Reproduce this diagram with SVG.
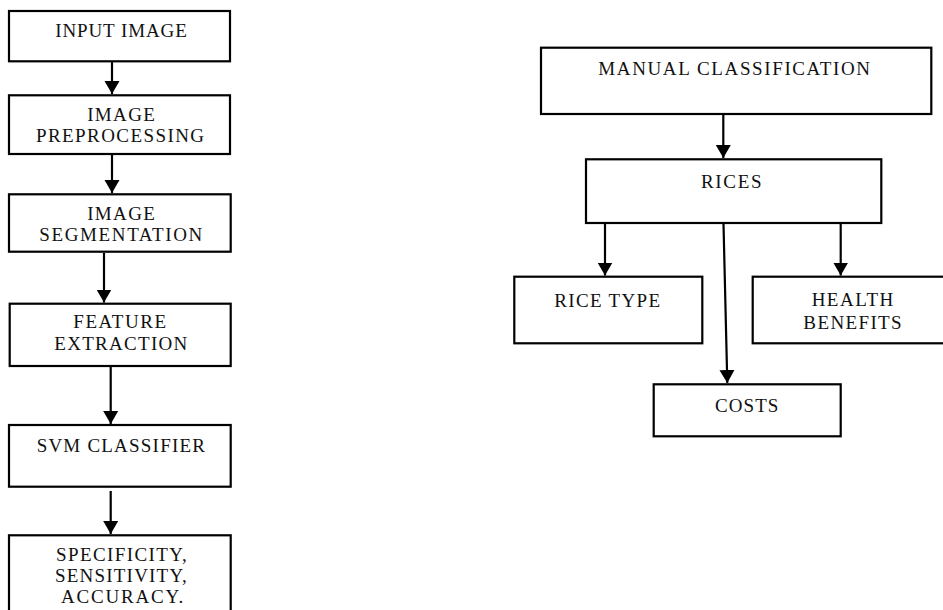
<svg xmlns="http://www.w3.org/2000/svg" width="943" height="610" viewBox="0 0 943 610">
<style>
.box{fill:#fff;stroke:#000;stroke-width:2.2}
.t{font-family:"Liberation Serif","Times New Roman",serif;font-size:19px;fill:#111;text-anchor:middle}
.c{stroke:#000;stroke-width:2.2;fill:none;marker-end:url(#ah)}
</style>
<defs>
<marker id="ah" markerUnits="userSpaceOnUse" markerWidth="16" markerHeight="16" refX="13" refY="8" orient="auto">
<path d="M0,0.5 L13,8 L0,15.5 Z" fill="#000"/>
</marker>
</defs>
<rect width="943" height="610" fill="#fff"/>
<g id="connectors">
<line class="c" x1="112" y1="62" x2="112" y2="94"/>
<line class="c" x1="112" y1="155" x2="112" y2="193"/>
<line class="c" x1="104" y1="253" x2="104" y2="302.5"/>
<line class="c" x1="110.7" y1="367" x2="110.7" y2="424"/>
<line class="c" x1="110.7" y1="491" x2="110.7" y2="534"/>
<line class="c" x1="723.3" y1="115" x2="723.3" y2="158"/>
<line class="c" x1="605" y1="224" x2="605" y2="275.5"/>
<line class="c" x1="840.7" y1="224" x2="840.7" y2="275.5"/>
<line class="c" x1="723.5" y1="224" x2="727.3" y2="383"/>
</g>
<g id="input-image">
<rect class="box" x="9" y="11" width="221" height="50.3"/>
<text class="t" x="121" y="37" textLength="131.7" lengthAdjust="spacing">INPUT IMAGE</text>
</g>
<g id="image-preprocessing">
<rect class="box" x="9" y="95.3" width="221" height="58.7"/>
<text class="t" x="121" y="120.7" textLength="67.7" lengthAdjust="spacing">IMAGE</text>
<text class="t" x="120" y="141.7" textLength="168" lengthAdjust="spacing">PREPROCESSING</text>
</g>
<g id="image-segmentation">
<rect class="box" x="9" y="194.3" width="221.7" height="57.4"/>
<text class="t" x="121" y="220" textLength="67.7" lengthAdjust="spacing">IMAGE</text>
<text class="t" x="120.8" y="241" textLength="163" lengthAdjust="spacing">SEGMENTATION</text>
</g>
<g id="feature-extraction">
<rect class="box" x="9.7" y="303.7" width="221" height="62.3"/>
<text class="t" x="119.7" y="328.3" textLength="92.7" lengthAdjust="spacing">FEATURE</text>
<text class="t" x="120.8" y="350" textLength="133" lengthAdjust="spacing">EXTRACTION</text>
</g>
<g id="svm-classifier">
<rect class="box" x="9" y="425" width="221.7" height="61.7"/>
<text class="t" x="120.8" y="451.7" textLength="168.3" lengthAdjust="spacing">SVM CLASSIFIER</text>
</g>
<g id="metrics">
<rect class="box" x="9" y="535.3" width="221.7" height="90"/>
<text class="t" x="121.3" y="560.5" textLength="130.7" lengthAdjust="spacing">SPECIFICITY,</text>
<text class="t" x="120.8" y="581.7" textLength="131.7" lengthAdjust="spacing">SENSITIVITY,</text>
<text class="t" x="122.2" y="602.7" textLength="122.3" lengthAdjust="spacing">ACCURACY.</text>
</g>
<g id="manual-classification">
<rect class="box" x="541" y="47.7" width="390.3" height="66.3"/>
<text class="t" x="734.2" y="75" textLength="271.7" lengthAdjust="spacing">MANUAL CLASSIFICATION</text>
</g>
<g id="rices">
<rect class="box" x="586" y="159.3" width="295.3" height="63.7"/>
<text class="t" x="731.3" y="188.3" textLength="60.7" lengthAdjust="spacing">RICES</text>
</g>
<g id="rice-type">
<rect class="box" x="514.3" y="276.7" width="188" height="66.6"/>
<text class="t" x="607.2" y="307.3" textLength="105.7" lengthAdjust="spacing">RICE TYPE</text>
</g>
<g id="health-benefits">
<rect class="box" x="752.7" y="276.7" width="200" height="66.6"/>
<text class="t" x="852.5" y="306" textLength="81.7" lengthAdjust="spacing">HEALTH</text>
<text class="t" x="852.5" y="329.3" textLength="98.3" lengthAdjust="spacing">BENEFITS</text>
</g>
<g id="costs">
<rect class="box" x="653.7" y="384.3" width="187" height="52"/>
<text class="t" x="746.7" y="411.7" textLength="63.3" lengthAdjust="spacing">COSTS</text>
</g>
</svg>
